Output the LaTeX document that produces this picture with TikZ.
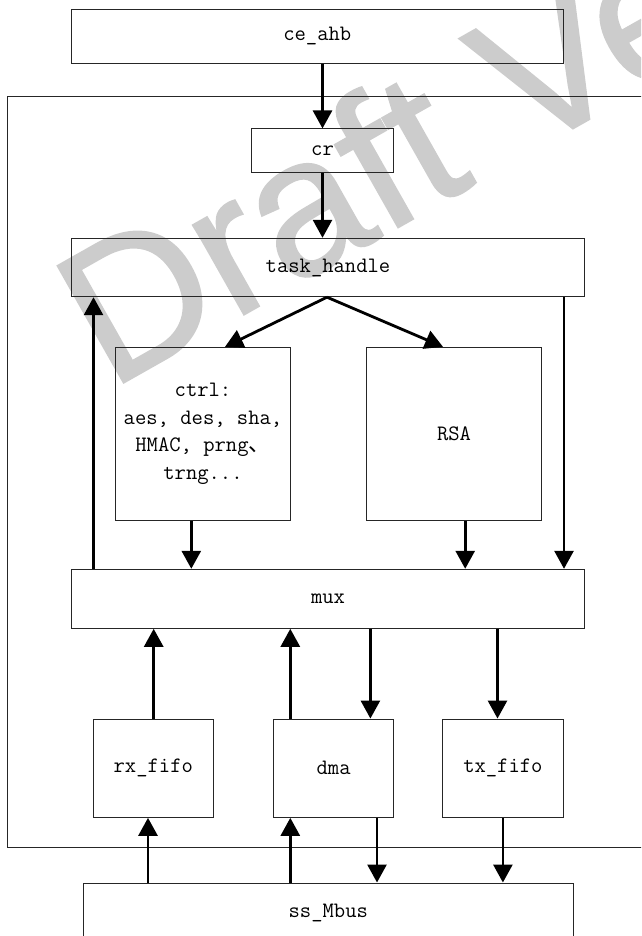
\documentclass[tikz,border=0pt]{standalone}
\usepackage{fontspec}
\newfontfamily\cjkfont{Noto Sans CJK SC}
\newfontfamily\wmfont[FakeBold=1]{Liberation Sans}
\usetikzlibrary{arrows.meta}
\begin{document}
\begin{tikzpicture}[x=1pt,y=-1pt,
  box/.style={draw=black!85, line width=1pt, inner sep=0pt, align=center,
    font=\ttfamily\fontsize{22}{27.7}\selectfont},
  arr/.style={line width=2.8pt, -{Triangle[width=19pt,length=18pt]}}]
\useasboundingbox (0,0) rectangle (641,936);
\begin{scope}
\clip (0,0) rectangle (641,936);
\node[text=black!20, font=\wmfont\fontsize{195}{195}\selectfont, anchor=base west, rotate=29.5, inner sep=0pt] (wm) at (109.6,390.6) {Draft Ve};
\node[box, anchor=north west, minimum width=653pt, minimum height=750.7pt] (outer) at (7.4,96) {};
\node[box, minimum width=490.5pt, minimum height=60pt] (ss) at (328.3,913) {ss\_Mbus};
\end{scope}
\node[box, minimum width=491.5pt, minimum height=53.5pt] (ahb) at (317.3,36.3) {ce\_ahb};
\node[box, minimum width=142.3pt, minimum height=43.7pt] (cr) at (322.5,150.8) {cr};
\node[box, minimum width=513pt, minimum height=58.4pt] (th) at (328,267.5) {task\_handle};
\node[box, minimum width=174.6pt, minimum height=172.7pt] (ctrl) at (203,433.7) {ctrl:\\aes, des, sha,\\HMAC, prng{\cjkfont 、}\\trng...};
\node[box, minimum width=175.4pt, minimum height=172.7pt] (rsa) at (454,433.7) {RSA};
\node[box, minimum width=513pt, minimum height=59pt] (mux) at (328,598.8) {mux};
\node[box, minimum width=120.2pt, minimum height=98.3pt] (rx) at (153.3,768.2) {rx\_fifo};
\node[box, minimum width=120.2pt, minimum height=98.3pt] (dma) at (333.6,768.2) {dma};
\node[box, minimum width=120.2pt, minimum height=98.3pt] (tx) at (502.9,768.2) {tx\_fifo};
% connectors
\draw[arr] (ahb.south -| cr.north) -- (cr.north);
\draw[arr] (cr.south) -- (cr.south |- th.north);
\coordinate (fork) at ([xshift=-1pt]th.south);
\draw[arr] (fork) -- ([xshift=22pt]ctrl.north);
\draw[arr] (fork) -- ([xshift=-11pt]rsa.north);
\coordinate (lu) at ([xshift=22.5pt]mux.north west);
\draw[arr] (lu) -- (lu |- th.south);
\coordinate (rd) at ([xshift=-21pt]th.south east);
\draw[arr] (rd) -- (rd |- mux.north);
\coordinate (c1) at ([xshift=-11.7pt]ctrl.south);
\draw[arr] (c1) -- (c1 |- mux.north);
\coordinate (r1) at ([xshift=11.2pt]rsa.south);
\draw[arr] (r1) -- (r1 |- mux.north);
\coordinate (x1) at ([xshift=0.4pt]rx.north);
\draw[arr] (x1) -- (x1 |- mux.south);
\coordinate (d1) at ([xshift=-43.3pt]dma.north);
\draw[arr] (d1) -- (d1 |- mux.south);
\coordinate (d2) at ([xshift=36.8pt]dma.north);
\draw[arr] (d2 |- mux.south) -- (d2);
\coordinate (t1) at ([xshift=-5.4pt]tx.north);
\draw[arr] (t1 |- mux.south) -- (t1);
\coordinate (x2) at ([xshift=-5.3pt]rx.south);
\draw[arr] (x2 |- ss.north) -- (x2);
\coordinate (d3) at ([xshift=-43.3pt]dma.south);
\draw[arr] (d3 |- ss.north) -- (d3);
\coordinate (d4) at ([xshift=43.4pt]dma.south);
\draw[arr] (d4) -- (d4 |- ss.north);
\draw[arr] (tx.south) -- (tx.south |- ss.north);
\end{tikzpicture}
\end{document}
